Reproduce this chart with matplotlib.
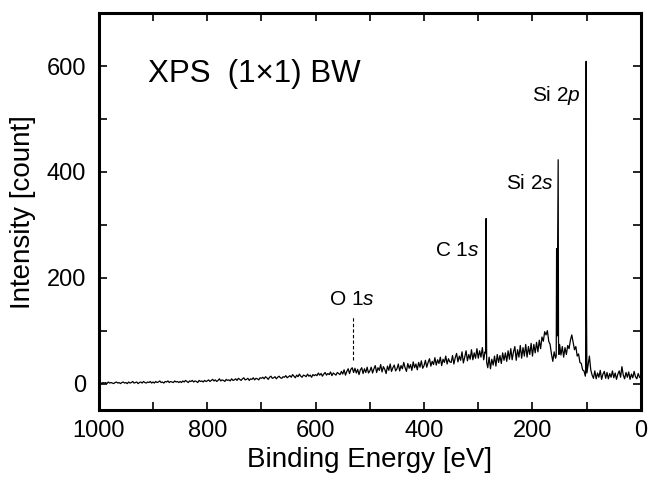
import numpy as np
import matplotlib
matplotlib.use("Agg")
import matplotlib.pyplot as plt
from matplotlib.ticker import MultipleLocator

plt.rcParams.update({"font.family": "Liberation Sans",
                     "mathtext.fontset": "custom", "mathtext.it": "Liberation Sans:italic",
                     "mathtext.rm": "Liberation Sans"})

# ---- data ------------------------------------------------------------------
# survey spectrum read every 2.5 eV, 1000 eV down to 0 eV (one row = 50 eV)
bg_energy = np.arange(1000, -0.1, -2.5)
bg_counts = [
    1, 3, 0, 2, 1, 2, 0, 3, 1, 2, 1, 0, 2, 3, 1, 2, 0, 2, 3, 1,
    2, 0, 3, 1, 2, 4, 1, 2, 3, 0, 2, 3, 1, 4, 2, 1, 3, 2, 4, 1,
    3, 1, 4, 2, 3, 5, 2, 3, 1, 4, 3, 5, 2, 4, 3, 2, 5, 3, 4, 2,
    4, 2, 5, 3, 6, 4, 2, 5, 4, 6, 3, 5, 4, 2, 6, 4, 5, 3, 6, 4,
    5, 7, 4, 6, 8, 5, 7, 4, 6, 9, 5, 7, 6, 4, 8, 6, 7, 5, 9, 6,
    7, 9, 6, 10, 8, 6, 9, 11, 7, 8, 10, 6, 9, 8, 11, 7, 10, 9, 7, 11,
    10, 12, 9, 13, 11, 8, 12, 14, 10, 11, 13, 9, 12, 14, 11, 10, 13, 12, 15, 11,
    13, 15, 12, 17, 14, 11, 16, 13, 18, 14, 12, 16, 15, 13, 18, 14, 16, 12, 17, 15,
    17, 15, 20, 16, 19, 14, 18, 21, 16, 19, 17, 22, 15, 20, 18, 16, 21, 19, 17, 23,
    18, 26, 16, 23, 28, 19, 27, 30, 21, 29, 20, 27, 17, 26, 30, 19, 28, 21, 31, 20,
    24, 31, 20, 28, 34, 21, 30, 25, 36, 22, 32, 27, 19, 33, 25, 37, 23, 30, 35, 24,
    28, 37, 24, 34, 28, 40, 30, 23, 38, 29, 36, 25, 41, 30, 37, 26, 40, 31, 43, 29,
    34, 44, 31, 40, 47, 33, 42, 36, 49, 35, 45, 38, 50, 34, 46, 40, 52, 37, 47, 41,
    40, 53, 37, 49, 57, 41, 52, 44, 60, 39, 50, 62, 43, 55, 46, 64, 45, 58, 48, 66,
    48, 62, 50, 68, 45, 60, 55, 30, 50, 28, 46, 35, 52, 33, 55, 40, 53, 38, 58, 44,
    58, 42, 62, 46, 66, 45, 60, 70, 44, 64, 50, 72, 48, 68, 52, 74, 50, 70, 55, 76,
    52, 74, 58, 78, 60, 82, 66, 88, 80, 98, 92, 100, 80, 74, 56, 42, 60, 48, 50, 60,
    74, 54, 70, 50, 68, 55, 72, 66, 82, 92, 78, 64, 70, 52, 56, 40, 38, 26, 24, 14,
    18, 34, 52, 26, 16, 10, 24, 9, 20, 12, 25, 8, 18, 23, 10, 21, 9, 19, 12, 24,
    11, 20, 8, 18, 24, 12, 32, 16, 9, 21, 12, 22, 8, 18, 11, 23, 13, 9, 19, 12,
    10,
]

# sharp core-level lines
c1s_energy = [286.5, 285.9, 285.5, 285.1, 284.5]
c1s_counts = [58, 190, 312, 150, 40]
si2s_energy = [156.2, 155.5, 154.6, 152.6, 152.0, 151.2]
si2s_counts = [52, 255, 90, 423, 80, 55]
si2p_energy = [102.0, 101.5, 101.0, 100.4, 99.6]
si2p_counts = [22, 300, 609, 150, 20]

o1s_energy = 532
o1s_marker = [45, 128]

# merge: drop background points that fall inside a peak window
energy = np.asarray(bg_energy, float)
counts = np.asarray(bg_counts, float)
keep = np.ones(len(energy), bool)
for pe in (c1s_energy, si2s_energy, si2p_energy):
    keep &= ~((energy >= min(pe)) & (energy <= max(pe)))
energy = np.concatenate([energy[keep], c1s_energy, si2s_energy, si2p_energy])
counts = np.concatenate([counts[keep], c1s_counts, si2s_counts, si2p_counts])
order = np.argsort(-energy, kind="stable")
energy, counts = energy[order], counts[order]

# ---- figure ----------------------------------------------------------------
fig = plt.figure(figsize=(6.5, 4.87), dpi=100)
ax = fig.add_axes([0.152, 0.158, 0.834, 0.815])

ax.plot(energy, counts, color="black", lw=0.9)
ax.plot([o1s_energy, o1s_energy], o1s_marker, color="black", lw=0.8, ls=(0, (3, 2)))

ax.set_xlim(1000, 0)
ax.set_ylim(-50, 700)
ax.xaxis.set_major_locator(MultipleLocator(200))
ax.xaxis.set_minor_locator(MultipleLocator(100))
ax.yaxis.set_major_locator(MultipleLocator(200))
ax.yaxis.set_minor_locator(MultipleLocator(100))
ax.tick_params(which="both", direction="in", top=True, right=True, width=1.2,
               length=6, labelsize=17)
ax.tick_params(axis="x", pad=7)
ax.tick_params(axis="y", pad=9)
for s in ax.spines.values():
    s.set_linewidth(2.2)

ax.set_xlabel("Binding Energy [eV]", fontsize=20, labelpad=4)
ax.set_ylabel("Intensity [count]", fontsize=20, labelpad=8)

ax.text(910, 585, "XPS  (1\u00d71) BW", fontsize=22.5, va="center", ha="left")
ax.text(297, 251, "C 1$s$", fontsize=15, va="center", ha="right")
ax.text(160, 379, "Si 2$s$", fontsize=15, va="center", ha="right")
ax.text(111, 544, "Si 2$p$", fontsize=15, va="center", ha="right")
ax.text(534, 158, "O 1$s$", fontsize=15, va="center", ha="center")

fig.savefig("out.png", dpi=100)
